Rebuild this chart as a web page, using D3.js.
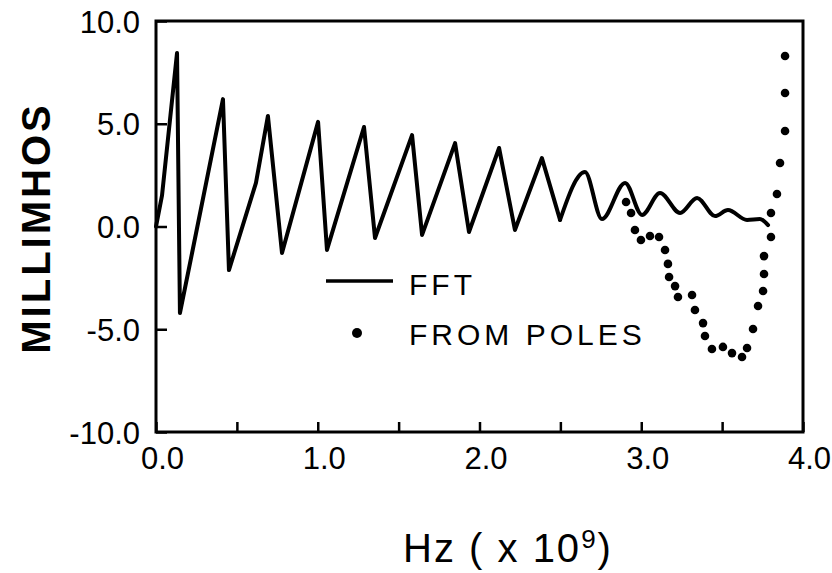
<!DOCTYPE html>
<html>
<head>
<meta charset="utf-8">
<script src="https://cdn.jsdelivr.net/npm/d3@7"></script>
<style>
  body { margin: 0; background: #fff; }
  text { font-family: "Liberation Sans", Arial, sans-serif; fill: #000; }
</style>
</head>
<body>
<svg id="chart" width="832" height="573"></svg>
<script>
// FFT admittance (frequency in GHz, value in millimhos)
const fftFreq = [0.000, 0.037, 0.130, 0.148, 0.223, 0.414, 0.451, 0.618, 0.692, 0.779,
                 1.002, 1.057, 1.286, 1.354, 1.583, 1.645, 1.849, 1.935, 2.121, 2.219,
                 2.386, 2.498, 2.652, 2.757, 2.900, 3.005, 3.116, 3.240, 3.345, 3.456,
                 3.536, 3.654, 3.734, 3.784];
const fftValue = [0.0, 1.5, 8.44, -4.21, -1.29, 6.20, -2.12, 2.12, 5.38, -1.29,
                  5.09, -1.14, 4.84, -0.56, 4.45, -0.41, 4.06, -0.27, 3.82, -0.17,
                  3.33, 0.32, 2.65, 0.36, 2.12, 0.56, 1.63, 0.66, 1.39, 0.51,
                  0.80, 0.32, 0.36, 0.07];
// above this frequency the FFT trace is drawn as a smooth curve
const fftSmoothFrom = 2.498;

// admittance reconstructed from poles
const poleFreq = [2.906, 2.937, 2.961, 2.998, 3.054, 3.110, 3.147, 3.165, 3.172, 3.209,
                  3.227, 3.314, 3.332, 3.382, 3.394, 3.437, 3.505, 3.561, 3.623, 3.654,
                  3.691, 3.722, 3.753, 3.759, 3.759, 3.802, 3.802, 3.839, 3.858, 3.889,
                  3.889, 3.889];
const poleValue = [1.19, 0.66, -0.17, -0.66, -0.46, -0.51, -1.14, -1.82, -2.46, -2.90,
                   -3.43, -3.33, -4.06, -4.70, -5.33, -5.96, -5.86, -6.16, -6.35, -5.91,
                   -4.99, -3.87, -3.14, -2.31, -1.44, -0.51, 0.66, 1.58, 3.09, 4.65,
                   6.50, 8.30];

const yTicks = [-10, -5, 0, 5, 10];
const xTicks = [0, 0.5, 1, 1.5, 2, 2.5, 3, 3.5, 4];
const xLabelTicks = [0, 1, 2, 3, 4];
const legendLabels = ["FFT", "FROM POLES"];

const svg = d3.select("#chart");
const x = d3.scaleLinear().domain([0, 4]).range([156, 803]);
const y = d3.scaleLinear().domain([-10, 10]).range([432, 21]);

const fmt = d => (d < 0 ? "-" : "") + Math.abs(d).toFixed(1);

// y axis: inward ticks, labels on the left
const gy = svg.append("g")
  .attr("transform", `translate(${x(0)},0)`)
  .call(d3.axisLeft(y).tickValues(yTicks).tickSize(-11).tickPadding(16).tickFormat(fmt));
gy.select(".domain").remove();
gy.attr("font-family", null).attr("font-size", null);
gy.selectAll("line").attr("stroke", "#000").attr("stroke-width", 2.5);
gy.selectAll("text").style("font-size", "31px").attr("dy", "0.36em");

// x axis: inward ticks every 0.5, labels on whole numbers
const gx = svg.append("g")
  .attr("transform", `translate(0,${y(-10)})`)
  .call(d3.axisBottom(x).tickValues(xTicks).tickSize(-10).tickPadding(15)
    .tickFormat(d => xLabelTicks.includes(d) ? d.toFixed(1) : ""));
gx.select(".domain").remove();
gx.attr("font-family", null).attr("font-size", null);
gx.selectAll("line").attr("stroke", "#000").attr("stroke-width", 2.5);
gx.selectAll("text").style("font-size", "31px").attr("dx", 6);

// plot frame
svg.append("rect")
  .attr("x", x(0)).attr("y", y(10))
  .attr("width", x(4) - x(0)).attr("height", y(-10) - y(10))
  .attr("fill", "none").attr("stroke", "#000").attr("stroke-width", 3);

// FFT trace
const fftPts = fftFreq.map((f, i) => [f, fftValue[i]]);
const sharpPts = fftPts.filter(p => p[0] <= fftSmoothFrom);
const smoothPts = fftPts.filter(p => p[0] >= fftSmoothFrom);
const lineSharp = d3.line().x(p => x(p[0])).y(p => y(p[1])).curve(d3.curveLinear);
const lineSmooth = d3.line().x(p => x(p[0])).y(p => y(p[1])).curve(d3.curveMonotoneX);
[[sharpPts, lineSharp], [smoothPts, lineSmooth]].forEach(([pts, gen]) => {
  svg.append("path")
    .attr("d", gen(pts))
    .attr("fill", "none").attr("stroke", "#000")
    .attr("stroke-width", 4)
    .attr("stroke-linejoin", "round").attr("stroke-linecap", "round");
});

// pole-derived points
svg.append("g").selectAll("circle")
  .data(poleFreq.map((f, i) => [f, poleValue[i]]))
  .join("circle")
  .attr("cx", p => x(p[0])).attr("cy", p => y(p[1]))
  .attr("r", 4.3).attr("fill", "#000");

// legend
const lg = svg.append("g");
lg.append("line").attr("x1", 326).attr("x2", 393).attr("y1", 281).attr("y2", 281)
  .attr("stroke", "#000").attr("stroke-width", 3.5);
lg.append("circle").attr("cx", 357).attr("cy", 333).attr("r", 5).attr("fill", "#000");
lg.selectAll("text").data(legendLabels).join("text")
  .attr("x", 409).attr("y", (d, i) => 295 + i * 50)
  .style("font-size", "30px").style("letter-spacing", "4px")
  .text(d => d);

// axis titles
svg.append("text")
  .attr("transform", "translate(50,228) rotate(-90)")
  .attr("text-anchor", "middle")
  .style("font-size", "40px").style("font-weight", "bold").style("letter-spacing", "3px")
  .text("MILLIMHOS");

const xt = svg.append("text")
  .attr("x", 508).attr("y", 562)
  .attr("text-anchor", "middle")
  .style("font-size", "40px").style("letter-spacing", "2px");
xt.append("tspan").text("Hz ( x 10");
xt.append("tspan").attr("dy", -14).style("font-size", "26px").text("9");
xt.append("tspan").attr("dy", 14).text(")");
</script>
</body>
</html>
